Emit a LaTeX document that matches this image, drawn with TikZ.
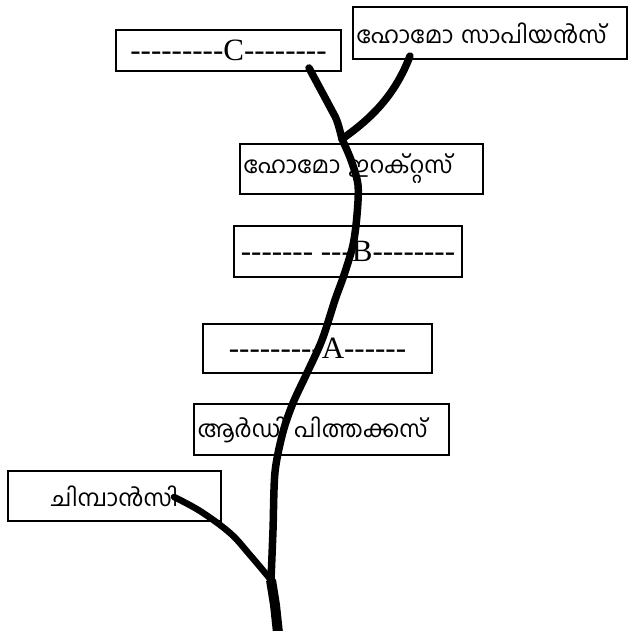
\documentclass[tikz,border=0pt]{standalone}
\usepackage{fontspec}
\setmainfont{Liberation Serif}[Ligatures=TeXOff]
\newfontfamily\mlfont[Script=Malayalam]{Hind Kochi}
\begin{document}
\begin{tikzpicture}[x=1pt,y=-1pt,
  box/.style={draw, line width=1.5pt, fill=white, inner sep=0pt,
    minimum width=#1},
  serifbox/.style={box=#1, font=\fontsize{31}{31}\selectfont},
  mlbox/.style={box=#1, font=\mlfont\fontsize{23.3}{25}\selectfont},
  leftbox/.style={mlbox=#1, align=left, text width=#1-7pt},
  trunk/.style={line width=7.5pt, line cap=round, line join=round}]
\useasboundingbox (0,0) rectangle (630,631);

% labels of the tree
\node[serifbox=225pt, minimum height=41pt] (c) at (228.5,50.5)
  {\raisebox{-4pt}{---------C--------}};
\node[leftbox=274pt, minimum height=52pt] (sapiens) at (490,33)
  {ഹോമോ സാപിയൻസ്};
\node[leftbox=243pt, minimum height=50pt] (erectus) at (361.5,169)
  {ഹോമോ ഇറക്റ്റസ്};
\node[serifbox=228pt, minimum height=51pt] (b) at (348,251.5)
  {------- ---B--------};
\node[serifbox=229pt, minimum height=49pt] (a) at (317.5,348.5)
  {---------A------};
\node[leftbox=255pt, minimum height=51pt] (ardi) at (321.5,429.5)
  {ആർഡി പിത്തക്കസ്};
\node[mlbox=213pt, minimum height=50pt] (chimp) at (114.5,496)
  {ചിമ്പാൻസി};

% branching points of the tree
\coordinate (root) at (278,633);
\coordinate (split) at (271,580);
\coordinate (top) at (342,139);
\coordinate (cend) at (309,68);
\coordinate (send) at (410,56);
\coordinate (chend) at (174,497);

% main stem
\draw[trunk, line width=10pt, line cap=butt] (root) -- (275,605) -- (split);
\draw[trunk] plot[smooth, tension=0.5] coordinates {
  (split) (273,530) (275,472) (283,432) (293,403) (307,373) (322,340)
  (335,300) (344,275) (353,245) (357,215) (358,185) (351,160) (top)};
% side branches
\draw[trunk] plot[smooth, tension=0.6] coordinates {
  (top) (337,121) (330,107) (cend)};
\draw[trunk] (top) .. controls (372,118) and (395,95) .. (send);
\draw[trunk, line width=6.5pt] plot[smooth, tension=0.6] coordinates {
  (chend) (200,511) (230,533) (250,555) (split)};
\end{tikzpicture}
\end{document}
